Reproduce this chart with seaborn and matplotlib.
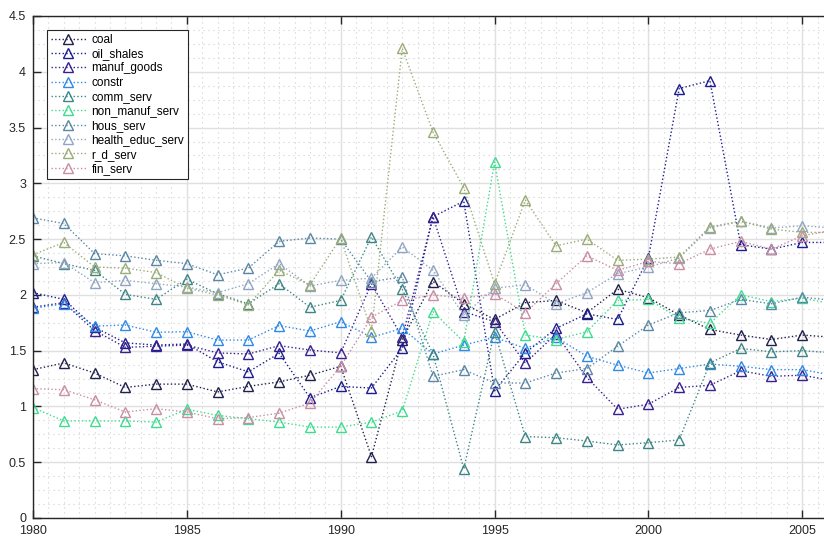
import matplotlib
matplotlib.use("Agg")
import matplotlib.pyplot as plt
from matplotlib.ticker import MultipleLocator
import numpy as np
import pandas as pd
import seaborn as sns

years = list(range(1980, 2007))

coal = [1.33, 1.39, 1.30, 1.17, 1.20, 1.20, 1.13, 1.18, 1.22, 1.28, 1.36, 0.55, 1.60,
        2.12, 1.92, 1.78, 1.93, 1.95, 1.84, 2.05, 1.975, 1.82, 1.69, 1.64, 1.60, 1.64, 1.62]
oil_shales = [2.02, 1.96, 1.71, 1.57, 1.55, 1.56, 1.40, 1.31, 1.476, 1.078, 1.18, 1.165, 1.52,
              2.70, 2.84, 1.14, 1.48, 1.70, 1.83, 1.78, 2.33, 3.85, 3.92, 2.45, 2.41, 2.47, 2.47]
manuf_goods = [1.89, 1.93, 1.68, 1.53, 1.54, 1.55, 1.48, 1.47, 1.545, 1.506, 1.48, 2.10, 1.62,
               2.70, 1.85, 1.76, 1.39, 1.65, 1.26, 0.975, 1.02, 1.17, 1.19, 1.32, 1.27, 1.28, 1.23]
constr = [1.88, 1.92, 1.72, 1.73, 1.665, 1.67, 1.595, 1.595, 1.725, 1.676, 1.76, 1.62, 1.70,
          1.47, 1.55, 1.62, 1.52, 1.62, 1.45, 1.37, 1.30, 1.34, 1.38, 1.36, 1.33, 1.33, 1.28]
comm_serv = [2.35, 2.28, 2.22, 2.005, 1.96, 2.14, 2.01, 1.92, 2.10, 1.89, 1.95, 2.52, 2.05,
             1.47, 0.44, 1.67, 0.73, 0.72, 0.69, 0.655, 0.675, 0.70, 1.39, 1.52, 1.49, 1.50, 1.48]
non_manuf_serv = [0.99, 0.87, 0.87, 0.87, 0.86, 0.975, 0.92, 0.89, 0.86, 0.815, 0.815, 0.86, 0.96,
                  1.85, 1.58, 3.19, 1.64, 1.60, 1.67, 1.95, 1.96, 1.79, 1.745, 2.00, 1.94, 1.97, 1.92]
hous_serv = [2.69, 2.64, 2.37, 2.35, 2.31, 2.28, 2.18, 2.24, 2.48, 2.51, 2.50, 2.12, 2.16,
             1.27, 1.33, 1.21, 1.21, 1.30, 1.34, 1.54, 1.73, 1.84, 1.86, 1.96, 1.92, 1.98, 1.95]
health_educ_serv = [2.28, 2.29, 2.11, 2.13, 2.10, 2.07, 2.02, 2.10, 2.28, 2.08, 2.13, 2.15, 2.43,
                    2.22, 1.82, 2.06, 2.09, 1.92, 2.02, 2.19, 2.25, 2.33, 2.60, 2.66, 2.60, 2.62, 2.60]
r_d_serv = [2.36, 2.47, 2.25, 2.24, 2.20, 2.06, 2.00, 1.91, 2.22, 2.09, 2.51, 1.68, 4.21,
            3.46, 2.96, 2.10, 2.85, 2.44, 2.50, 2.31, 2.32, 2.34, 2.61, 2.66, 2.59, 2.56, 2.56]
fin_serv = [1.16, 1.15, 1.06, 0.95, 0.98, 0.95, 0.89, 0.90, 0.94, 1.03, 1.36, 1.80, 1.95,
            2.00, 1.97, 2.01, 1.84, 2.10, 2.35, 2.22, 2.30, 2.28, 2.41, 2.48, 2.41, 2.53, 2.58]

series_names = ["coal", "oil_shales", "manuf_goods", "constr", "comm_serv",
                "non_manuf_serv", "hous_serv", "health_educ_serv", "r_d_serv", "fin_serv"]
series_values = [coal, oil_shales, manuf_goods, constr, comm_serv,
                 non_manuf_serv, hous_serv, health_educ_serv, r_d_serv, fin_serv]
colors = ["#20204e", "#1c1c8e", "#37208f", "#2e8ae6", "#3e8585",
          "#3fdc8f", "#5a87a5", "#8fa5c2", "#9aac78", "#c98da5"]

y_ticks = [0, 0.5, 1, 1.5, 2, 2.5, 3, 3.5, 4, 4.5]
y_tick_labels = ["0", "0.5", "1", "1.5", "2", "2.5", "3", "3.5", "4", "4.5"]
x_ticks = [1980, 1985, 1990, 1995, 2000, 2005]

df = pd.DataFrame({
    "year": np.tile(years, len(series_names)),
    "value": np.concatenate(series_values),
    "series": np.repeat(series_names, len(years)),
})

plt.rcParams["font.family"] = ["Liberation Sans", "DejaVu Sans"]

fig = plt.figure(figsize=(8.24, 5.36), dpi=100)
# the axes run slightly past the right edge of the figure, so the last year is cut off
ax = fig.add_axes([33 / 824, 18 / 536, 800 / 824, 502 / 536])

for name, col in zip(series_names, colors):
    sub = df[df["series"] == name]
    sns.lineplot(data=sub, x="year", y="value", ax=ax, color=col, linestyle=":",
                 linewidth=1.0, marker="^", markersize=7.5, markerfacecolor="none",
                 markeredgecolor=col, markeredgewidth=1.0, label=name)

ax.set_xlim(1980, 2006)
ax.set_ylim(0, 4.5)
ax.set_xticks(x_ticks)
ax.set_xticklabels([str(t) for t in x_ticks])
ax.set_yticks(y_ticks)
ax.set_yticklabels(y_tick_labels)
ax.xaxis.set_minor_locator(MultipleLocator(0.5))
ax.yaxis.set_minor_locator(MultipleLocator(0.125))
ax.set_xlabel("")
ax.set_ylabel("")

ax.grid(which="major", color="#e0e0e0", linestyle="-", linewidth=1.0)
ax.grid(which="minor", color="#cfcfcf", linestyle=(0, (1, 3.5)), linewidth=0.8)
ax.set_axisbelow(True)

ax.tick_params(which="major", direction="in", length=6, width=1.0, colors="#262626",
               labelsize=9, top=True, right=False)
ax.tick_params(axis="x", which="major", pad=5)
ax.tick_params(axis="y", which="major", pad=5)
ax.tick_params(which="minor", length=0)
for side in ["left", "bottom", "top"]:
    ax.spines[side].set_color("#262626")
    ax.spines[side].set_linewidth(1.0)
ax.spines["right"].set_visible(False)

leg = ax.legend(loc="upper left", fontsize=8.5, frameon=True, fancybox=False,
                edgecolor="#262626", framealpha=1, borderaxespad=1.15,
                handlelength=3.0, handletextpad=0.45, labelspacing=0.2, borderpad=0.35)
leg.get_frame().set_linewidth(0.8)

fig.savefig("out.png", dpi=100)
